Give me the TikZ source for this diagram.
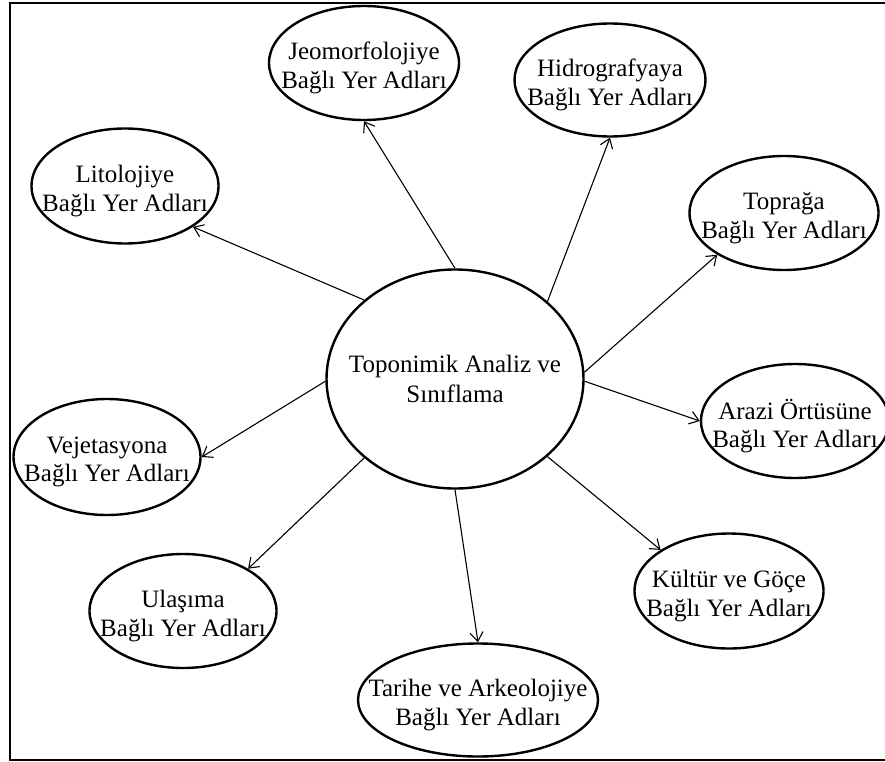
\documentclass[tikz,border=0pt]{standalone}
\usepackage{fontspec}
\setmainfont{Liberation Serif}
\usetikzlibrary{shapes.geometric,arrows.meta}
\begin{document}
\begin{tikzpicture}[x=1pt,y=-1pt,
  oval/.style={draw, ellipse, line width=2.4pt, inner sep=0pt},
  ovaltext/.style={font=\fontsize{25}{28.5}\selectfont, align=center, yshift=-5pt},
  centertext/.style={font=\fontsize{25}{30}\selectfont, align=center, yshift=0pt},
  link/.style={line width=1.1pt, -{Straight Barb[length=9pt,width=13pt,line width=1.1pt]}}
]
\useasboundingbox (0,0) rectangle (885,762);
\draw[line width=2pt] (10,3) rectangle (900,760);

\node[oval, minimum width=257pt, minimum height=219pt,
  label={[centertext]center:Toponimik Analiz ve\\Sınıflama}] (c) at (455,379) {};

\node[oval, minimum width=190pt, minimum height=114pt,
  label={[ovaltext]center:Jeomorfolojiye\\Bağlı Yer Adları}] (jeo) at (364,63) {};
\node[oval, minimum width=191pt, minimum height=113pt,
  label={[ovaltext]center:Hidrografyaya\\Bağlı Yer Adları}] (hid) at (610,80) {};
\node[oval, minimum width=187pt, minimum height=115pt,
  label={[ovaltext]center:Litolojiye\\Bağlı Yer Adları}] (lit) at (125,186) {};
\node[oval, minimum width=189pt, minimum height=114pt,
  label={[ovaltext]center:Toprağa\\Bağlı Yer Adları}] (top) at (784,213) {};
\node[oval, minimum width=188pt, minimum height=114pt,
  label={[ovaltext]center:Arazi Örtüsüne\\Bağlı Yer Adları}] (ara) at (795,421) {};
\node[oval, minimum width=187pt, minimum height=116pt,
  label={[ovaltext]center:Vejetasyona\\Bağlı Yer Adları}] (vej) at (107,457) {};
\node[oval, minimum width=189pt, minimum height=115pt,
  label={[ovaltext]center:Kültür ve Göçe\\Bağlı Yer Adları}] (kul) at (729,591) {};
\node[oval, minimum width=187pt, minimum height=114pt,
  label={[ovaltext]center:Ulaşıma\\Bağlı Yer Adları}] (ula) at (183,611) {};
\node[oval, minimum width=240pt, minimum height=113pt,
  label={[ovaltext]center:Tarihe ve Arkeolojiye\\Bağlı Yer Adları}] (tar) at (478,700) {};

\draw[link] (c.north) -- (jeo.south);
\draw[link] (c.40) -- (hid.south);
\draw[link] (c.139) -- (lit.-31);
\draw[link] (c.3) -- (top.-148);
\draw[link] (c.-1) -- (ara.west);
\draw[link] (c.-40) -- (kul.149);
\draw[link] (c.south) -- (tar.north);
\draw[link] (c.-139) -- (ula.33);
\draw[link] (c.181) -- (vej.east);
\end{tikzpicture}
\end{document}
